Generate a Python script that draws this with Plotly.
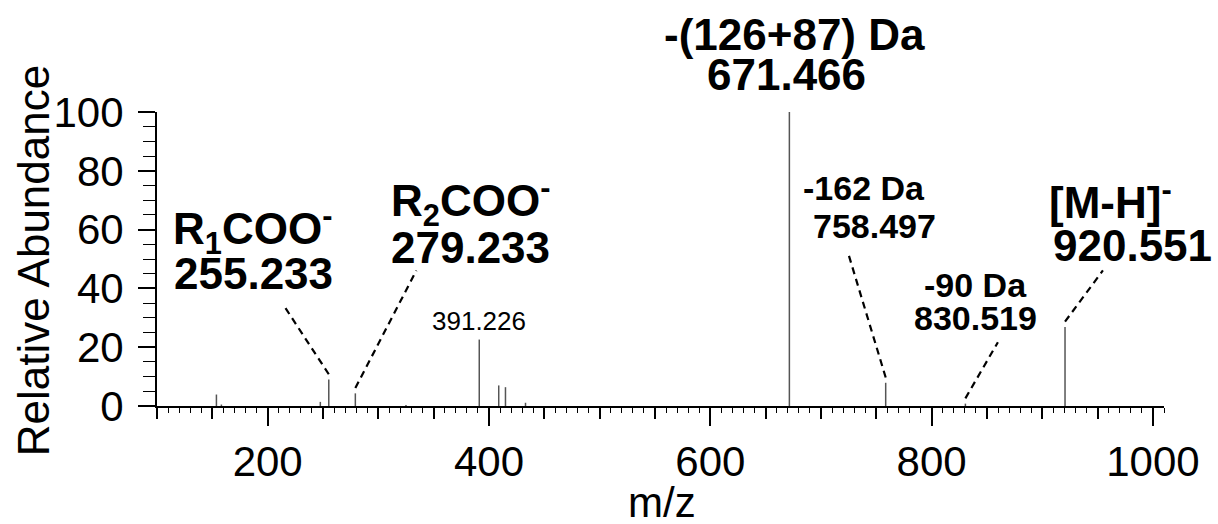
import plotly.graph_objects as go

# ---- data: centroid peaks (m/z, relative abundance) ----
peak_mz = [153.7, 158.2, 247.6, 255.233, 279.233, 325.0, 391.226, 408.8, 414.9, 433.0,
           671.466, 758.497, 830.519, 920.551]
peak_int = [3.9, 0.5, 1.4, 9.0, 4.3, 0.3, 22.6, 7.0, 6.4, 1.1,
            100.0, 7.9, 0.8, 26.9]

# ---- annotation texts ----
label_line1 = ["-(126+87) Da", "R<sub>1</sub>COO<sup>-</sup>", "R<sub>2</sub>COO<sup>-</sup>",
               "-162 Da", "-90 Da", "[M-H]<sup>-</sup>"]
label_line2 = ["671.466", "255.233", "279.233", "758.497", "830.519", "920.551"]
small_label = "391.226"
x_title = "m/z"
y_title = "Relative Abundance"

# ---- annotation layout (x in m/z, y in abundance units) ----
l1_x = [676.1, 186.5, 383.5, 739.2, 839.3, 961.2]
l1_y = [126.5, 59.9, 69.6, 74.2, 41.3, 70.1]
l2_x = [668.5, 187.4, 383.5, 748.5, 840.0, 981.6]
l2_y = [112.7, 45.2, 54.0, 61.1, 29.9, 54.6]
l_size = [44, 44, 44, 34, 34, 44]

# leader lines: from labelled peak top to the label
leader_mz = [255.233, 279.233, 758.497, 830.519, 920.551]
leader_end_x = [215.4, 334.4, 724.4, 859.9, 954.8]
leader_end_y = [33.7, 46.1, 52.2, 21.7, 46.1]

FONT = "Liberation Sans, Arial, sans-serif"
Y_MAX = 100.0

fig = go.Figure()

# stick spectrum
xs, ys = [], []
for m, h in zip(peak_mz, peak_int):
    xs += [m, m, None]
    ys += [0, h, None]
fig.add_trace(go.Scatter(x=xs, y=ys, mode="lines",
                         line=dict(color="#555555", width=1.5),
                         hoverinfo="skip", showlegend=False, cliponaxis=False))

# leader lines
lookup = dict(zip(peak_mz, peak_int))
for m, ex, ey in zip(leader_mz, leader_end_x, leader_end_y):
    fig.add_trace(go.Scatter(x=[m, ex], y=[lookup[m] + 1.8, ey], mode="lines",
                             line=dict(color="black", width=2.2, dash="7px,5px"),
                             hoverinfo="skip", showlegend=False, cliponaxis=False))

# invisible trace for the medium-tick overlay axis
fig.add_trace(go.Scatter(x=[100], y=[0], xaxis="x2", mode="markers",
                         marker=dict(opacity=0), hoverinfo="skip", showlegend=False))

for t1, t2, x1, y1, x2, y2, s in zip(label_line1, label_line2, l1_x, l1_y, l2_x, l2_y, l_size):
    fig.add_annotation(x=x1, y=y1 / Y_MAX, xref="x", yref="paper", text="<b>" + t1 + "</b>",
                       showarrow=False, xanchor="center", yanchor="middle",
                       font=dict(family=FONT, size=s, color="black"))
    fig.add_annotation(x=x2, y=y2 / Y_MAX, xref="x", yref="paper", text="<b>" + t2 + "</b>",
                       showarrow=False, xanchor="center", yanchor="middle",
                       font=dict(family=FONT, size=s, color="black"))

fig.add_annotation(x=390.7, y=28.9 / Y_MAX, xref="x", yref="paper", text=small_label,
                   showarrow=False, xanchor="center", yanchor="middle",
                   font=dict(family=FONT, size=26, color="black"))

# axis titles as annotations (fixed placement)
fig.add_annotation(x=0.501, y=-0.328, xref="paper", yref="paper", text=x_title,
                   showarrow=False, xanchor="center", yanchor="middle",
                   font=dict(family=FONT, size=42, color="black"))
fig.add_annotation(x=-0.123, y=0.493, xref="paper", yref="paper", text=y_title,
                   textangle=-90, showarrow=False, xanchor="center", yanchor="middle",
                   font=dict(family=FONT, size=44, color="black"))

fig.update_layout(
    width=1218, height=524,
    margin=dict(l=157, r=54, t=112, b=118, autoexpand=False),
    paper_bgcolor="white", plot_bgcolor="white",
    font=dict(family=FONT, color="black"),
    xaxis=dict(range=[100, 1010], tick0=0, dtick=200, ticks="outside", ticklen=18,
               tickwidth=1.5, tickcolor="black", showline=True, linecolor="black",
               linewidth=2, showgrid=False, zeroline=False, automargin=False,
               tickfont=dict(size=42, family=FONT),
               minor=dict(dtick=10, tick0=0, ticks="outside", ticklen=5, tickwidth=1.2,
                          tickcolor="black", showgrid=False)),
    xaxis2=dict(range=[100, 1010], overlaying="x", side="bottom", anchor="y",
                tick0=0, dtick=50, ticks="outside", ticklen=12, tickwidth=1.5,
                tickcolor="black", showticklabels=False, showline=False,
                showgrid=False, zeroline=False, automargin=False),
    yaxis=dict(range=[0, Y_MAX], tick0=0, dtick=20, ticks="outside", ticklen=17,
               tickwidth=1.5, tickcolor="black", showline=True, linecolor="black",
               linewidth=2, showgrid=False, zeroline=False, automargin=False,
               tickfont=dict(size=42, family=FONT), ticklabelstandoff=6,
               minor=dict(dtick=5, tick0=0, ticks="outside", ticklen=12, tickwidth=1.2,
                          tickcolor="black", showgrid=False)),
)

fig.write_html("out.html", config={"displayModeBar": False},
               post_script="document.body.style.margin='0';document.body.style.overflow='hidden';")
